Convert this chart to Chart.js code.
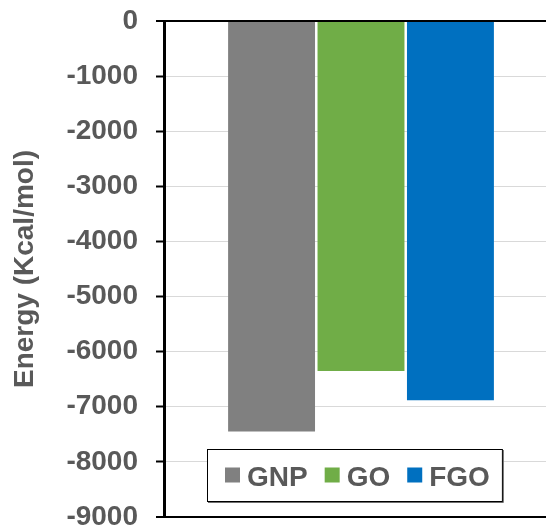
<!DOCTYPE html>
<html>
<head>
<meta charset="utf-8">
<script src="https://cdn.jsdelivr.net/npm/chart.js@4/dist/chart.umd.min.js"></script>
<style>
  html, body { margin: 0; padding: 0; background: #fff; overflow: hidden; }
  #wrap { width: 558px; height: 529px; }
</style>
</head>
<body>
<div id="wrap"><canvas id="c" width="558" height="529"></canvas></div>
<script>
// Interaction energies of the three systems
const seriesNames = ['GNP', 'GO', 'FGO'];
const energyValues = [-7450, -6350, -6880];
const seriesColors = ['#808080', '#70ad47', '#0070c0'];
const yTickValues = [0, -1000, -2000, -3000, -4000, -5000, -6000, -7000, -8000, -9000];
const yAxisTitle = 'Energy (Kcal/mol)';

const FONT = '"Liberation Sans", Arial, Helvetica, sans-serif';
const TEXT_GREY = '#595959';
const yMin = Math.min(...yTickValues);
const yMax = Math.max(...yTickValues);

// Boxed legend drawn inside the plot, near the bottom
const boxLegend = {
  id: 'boxLegend',
  afterDatasetsDraw(chart) {
    const ctx = chart.ctx;
    const area = chart.chartArea;
    ctx.save();
    ctx.font = 'bold 28px ' + FONT;
    const padL = 18, padR = 12, sw = 15, gapT = 7, gapI = 17, h = 52;
    const items = chart.data.datasets.map(d => ({
      text: d.label, color: d.backgroundColor, w: ctx.measureText(d.label).width
    }));
    let w = padL + padR;
    items.forEach((it, i) => { w += sw + gapT + it.w + (i ? gapI : 0); });
    const x0 = Math.round(area.left + 43);
    const y0 = Math.round(area.bottom - 16 - h);
    ctx.fillStyle = '#fff';
    ctx.fillRect(x0, y0, w, h);
    ctx.strokeStyle = '#6e6e6e';
    ctx.lineWidth = 1;
    ctx.beginPath();
    ctx.moveTo(x0 + w + 1.5, y0 + 1);
    ctx.lineTo(x0 + w + 1.5, y0 + h + 1.5);
    ctx.lineTo(x0 + 1, y0 + h + 1.5);
    ctx.stroke();
    ctx.strokeStyle = '#000';
    ctx.strokeRect(x0 + 0.5, y0 + 0.5, w, h);
    let x = x0 + padL;
    const cy = y0 + h / 2;
    items.forEach(it => {
      ctx.fillStyle = it.color;
      ctx.fillRect(x, cy - sw / 2, sw, sw);
      x += sw + gapT;
      ctx.fillStyle = TEXT_GREY;
      ctx.textBaseline = 'alphabetic';
      ctx.textAlign = 'left';
      ctx.fillText(it.text, x, cy + 10.5);
      x += it.w + gapI;
    });
    ctx.restore();
  }
};

const edgeTick = v => v === yMax || v === yMin;

new Chart(document.getElementById('c'), {
  type: 'bar',
  data: {
    labels: [''],
    datasets: seriesNames.map((name, i) => ({
      label: name,
      data: [energyValues[i]],
      backgroundColor: seriesColors[i],
      borderWidth: 0,
      barPercentage: 0.972,
      categoryPercentage: 0.681
    }))
  },
  options: {
    responsive: false,
    animation: false,
    devicePixelRatio: 1,
    layout: { padding: { top: 21, bottom: 12, left: 0, right: 0 } },
    plugins: {
      legend: { display: false },
      tooltip: { enabled: false }
    },
    scales: {
      x: { display: false },
      y: {
        min: yMin,
        max: yMax,
        ticks: {
          stepSize: 1000,
          color: TEXT_GREY,
          padding: 18,
          font: { family: FONT, size: 28, weight: 'bold' },
          callback: v => String(v)
        },
        grid: {
          color: c => (c.tick && edgeTick(c.tick.value)) ? '#000' : '#d9d9d9',
          lineWidth: c => (c.tick && edgeTick(c.tick.value)) ? 2 : 1,
          tickColor: '#000',
          tickLength: 8,
          tickWidth: 2
        },
        border: { color: '#000', width: 3 },
        title: {
          display: true,
          text: yAxisTitle,
          color: TEXT_GREY,
          font: { family: FONT, size: 28, weight: 'bold' },
          padding: { top: 8, bottom: 0 }
        },
        afterFit(scale) {
          scale.width = 164;
          scale.paddingTop = 0;
          scale.paddingBottom = 0;
        }
      }
    }
  },
  plugins: [boxLegend]
});
</script>
</body>
</html>
